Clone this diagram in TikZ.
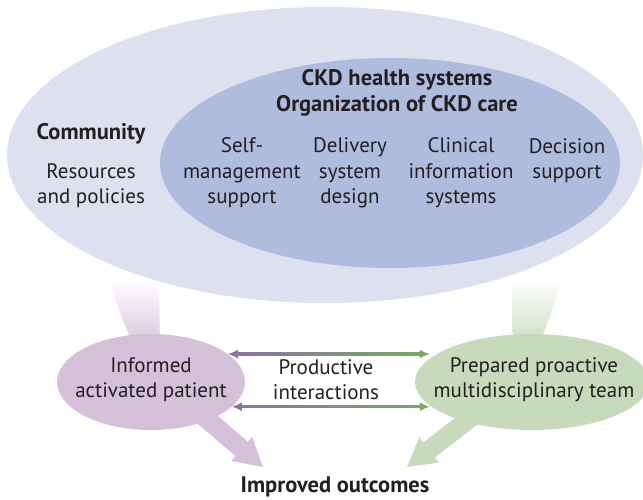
\documentclass[tikz,border=0pt]{standalone}
\usepackage{fontspec}
\setmainfont{PT Sans}
\usetikzlibrary{arrows.meta,calc,positioning,shapes.geometric}
\definecolor{ckdink}{HTML}{231F20}
\definecolor{ckdouter}{HTML}{DDE1EF}
\definecolor{ckdinner}{HTML}{B0BCDE}
\definecolor{ckdpatient}{HTML}{D5C0DA}
\definecolor{ckdteam}{HTML}{C7DABB}
\definecolor{ckdlinkp}{HTML}{8B72A3}
\definecolor{ckdlinkg}{HTML}{78AA62}
\pgfdeclarelayer{bg}
\pgfsetlayers{bg,main}
\tikzset{
  blob/.style={ellipse,draw=none,inner sep=0pt},
  ckdtext/.style={font=\fontsize{21}{25.5}\selectfont,text=ckdink,align=center,inner sep=0pt},
  ckdbold/.style={ckdtext,font=\fontsize{22.5}{26}\selectfont\bfseries},
  fatarrow/.style={line width=19pt,-{Triangle[length=28pt,width=32pt,line width=0pt]}},
  linktip/.style={line width=2.4pt,-{Latex[length=10pt,width=9pt]}},
}

\begin{document}
\begin{tikzpicture}[x=1pt,y=1pt]
        \useasboundingbox (0,0) rectangle (643,500);
        % ellipses
        \node[blob,fill=ckdouter,minimum width=636pt,minimum height=296pt] (community) at (325,345) {};
        \node[blob,fill=ckdinner,minimum width=460pt,minimum height=210pt] (caresys) at (390,337) {};
        \node[blob,fill=ckdpatient,minimum width=188pt,minimum height=96pt] (patient) at (151,118) {};
        \node[blob,fill=ckdteam,minimum width=234pt,minimum height=96pt] (team) at (532,118) {};
        % texts (base = last line)
        \node[ckdbold,anchor=base] (systitle) at (397,388) {CKD health systems\\Organization of CKD care};
        \node[ckdbold,anchor=base] (commtitle) at (91,360) {Community};
        \node[ckdtext,anchor=base] (resources) at (91,296) {Resources\\and policies};
        \node[ckdtext,anchor=base] (selfmgmt) at (242,296) {Self-\\management\\support};
        \node[ckdtext,anchor=base] (delivery) at (350,296) {Delivery\\system\\design};
        \node[ckdtext,anchor=base] (clininfo) at (461,296) {Clinical\\information\\systems};
        \node[ckdtext,anchor=base] (decision) at (567,321) {Decision\\support};
        \node[ckdtext,anchor=base] (patienttext) at (151,102) {Informed\\activated patient};
        \node[ckdtext,anchor=base] (teamtext) at (534,102) {Prepared proactive\\multidisciplinary team};
        \node[ckdtext,anchor=base] (interact) at (326,100) {Productive\\interactions};
        \node[ckdbold,anchor=base] (outcomes) at (335,7) {Improved outcomes};
        \coordinate (ptip) at (263,33);
        \coordinate (ttip) at (407,33);
        % wide arrows behind the ellipses
        \begin{pgfonlayer}{bg}
          \shade[top color=white,bottom color=ckdpatient] (109,220) .. controls (118,192) .. (135,150) -- (160,150) -- (159,220) -- cycle;
          \shade[top color=white,bottom color=ckdteam] (512,220) -- (513,150) -- (536,150) .. controls (550,182) .. (561,220) -- cycle;
          \draw[fatarrow,draw=ckdpatient] ($(patient.center)+(24,-10)$) -- (ptip);
          \draw[fatarrow,draw=ckdteam] ($(team.center)+(-32,-13)$) -- (ttip);
        \end{pgfonlayer}
        % productive interactions
        \coordinate (pu) at (patient.20);
        \coordinate (tu) at (team.167 |- pu);
        \coordinate (pd) at (patient.-17);
        \coordinate (td) at (team.193 |- pd);
        \foreach \a/\b in {pu/tu,pd/td}{
          \shade[left color=ckdlinkp,right color=ckdlinkg] ($(\a)+(8,-1.2)$) rectangle ($(\b)+(-8,1.2)$);
          \draw[linktip,draw=ckdlinkp] ($(\a)+(10,0)$) -- (\a);
          \draw[linktip,draw=ckdlinkg] ($(\b)+(-10,0)$) -- (\b);
        }
      \end{tikzpicture}
\end{document}
